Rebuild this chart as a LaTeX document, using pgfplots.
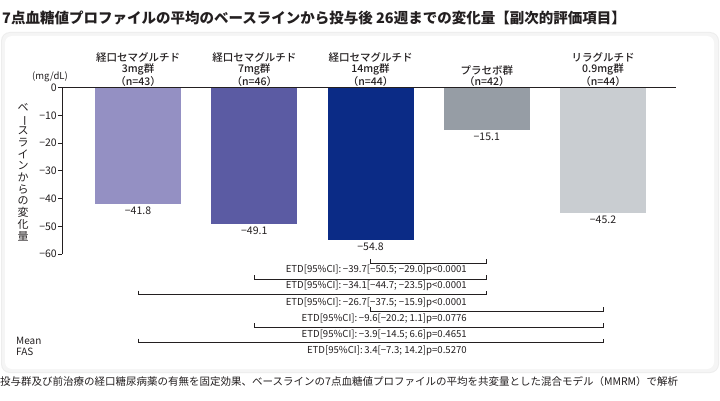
\documentclass[border=0pt]{standalone}
\usepackage{fontspec}
\setmainfont{Noto Sans CJK JP}
\newfontfamily\medfont{Noto Sans CJK JP Medium}
\usepackage{graphicx}
\usepackage{pgfplots}
\pgfplotsset{compat=1.18}
\definecolor{cA}{HTML}{9490C3}
\definecolor{cB}{HTML}{5B5BA3}
\definecolor{cC}{HTML}{0B2B86}
\definecolor{cD}{HTML}{969DA5}
\definecolor{cE}{HTML}{C9CDD1}
\definecolor{txt}{HTML}{231F20}
\begin{document}
\begin{tikzpicture}
\useasboundingbox (0pt,0pt) rectangle (720pt,400pt);
\fill[white] (0pt,0pt) rectangle (720pt,400pt);
% panel
\fill[black!7, rounded corners=9pt] (1pt,27pt) rectangle (719pt,368pt);
\fill[black!4, rounded corners=8pt] (2pt,28pt) rectangle (718pt,367pt);
\fill[white, rounded corners=7pt] (5pt,31pt) rectangle (714pt,364pt);
% title
\node[anchor=west, inner sep=0pt, font=\fontsize{14.5}{16}\selectfont\bfseries, text=txt] at (2pt,382pt)
 {7点血糖値プロファイルの平均のベースラインから投与後 26週までの変化量【副次的評価項目】};
% footnote
\node[anchor=west, inner sep=0pt, font=\fontsize{10.5}{12}\selectfont, text=txt] at (0pt,18pt)
 {投与群及び前治療の経口糖尿病薬の有無を固定効果、ベースラインの7点血糖値プロファイルの平均を共変量とした混合モデル（MMRM）で解析};
\begin{axis}[
  at={(62pt,146pt)}, anchor=south west,
  scale only axis, width=614pt, height=166.3pt,
  xmin=-0.654, xmax=4.628, ymin=-60, ymax=0,
  axis x line=top, axis y line=left,
  axis line style={-, line width=0.9pt, txt},
  ytick={-60,-50,-40,-30,-20,-10,0},
  yticklabels={−60,−50,−40,−30,−20,−10,0},
  y tick style={line width=0.9pt, txt},
  tick align=outside, major tick length=4pt,
  yticklabel style={font=\fontsize{10.5}{12}\selectfont, text=txt, inner sep=1pt},
  xtick={0,1,2,3,4},
  xticklabels={経口セマグルチド\\3mg群\\（n=43）,経口セマグルチド\\7mg群\\（n=46）,経口セマグルチド\\14mg群\\（n=44）,プラセボ群\\（n=42）,リラグルチド\\0.9mg群\\（n=44）},
  x tick style={draw=none},
  xticklabel style={align=center, font=\fontsize{10.5}{11.2}\selectfont\medfont, text=txt, anchor=south, inner sep=1pt, yshift=-4pt},
  ybar, bar width=86pt,
  nodes near coords, point meta=explicit symbolic,
  nodes near coords style={font=\fontsize{10.5}{12}\selectfont, text=txt, anchor=north, inner sep=3pt},
  clip=false,
]
\addplot[fill=cA, draw=none, bar shift=0pt] coordinates {(0,-41.8) [−41.8]};
\addplot[fill=cB, draw=none, bar shift=0pt] coordinates {(1,-49.1) [−49.1]};
\addplot[fill=cC, draw=none, bar shift=0pt] coordinates {(2,-54.8) [−54.8]};
\addplot[fill=cD, draw=none, bar shift=0pt] coordinates {(3,-15.1) [−15.1]};
\addplot[fill=cE, draw=none, bar shift=0pt] coordinates {(4,-45.2) [−45.2]};
\end{axis}
\begin{scope}[x=1pt, y=1pt]
\node[font=\fontsize{9.5}{11}\selectfont, text=txt, inner sep=0pt] at (50,323) {(mg/dL)};
\node[align=center, font=\fontsize{11}{11.7}\selectfont, text=txt, inner sep=0pt] at (23,228)
 {ベ\\\rotatebox[origin=c]{-90}{ー}\\ス\\ラ\\イ\\ン\\か\\ら\\の\\変\\化\\量};
\node[anchor=west, font=\fontsize{10}{11}\selectfont, text=txt, inner sep=0pt] at (16,59) {Mean};
\node[anchor=west, font=\fontsize{10}{11}\selectfont, text=txt, inner sep=0pt] at (16,48) {FAS};
\begin{scope}[line width=0.9pt, txt]
\draw (370.5,140.7) -- (370.5,136.7) -- (486.5,136.7) -- (486.5,140.7);
\draw (254,125) -- (254,121) -- (486.5,121) -- (486.5,125);
\draw (138,109.3) -- (138,105.3) -- (486.5,105.3) -- (486.5,109.3);
\draw (370.5,93) -- (370.5,89) -- (603,89) -- (603,93);
\draw (254,76.7) -- (254,72.7) -- (603,72.7) -- (603,76.7);
\draw (138,61.3) -- (138,57.3) -- (603,57.3) -- (603,61.3);
\end{scope}
\begin{scope}[every node/.style={anchor=east, inner sep=0pt, font=\fontsize{9.6}{10}\selectfont, text=txt}]
\node at (467,130) {ETD[95\%CI]:\,−39.7[−50.5; −29.0]p<0.0001};
\node at (467,114.3) {ETD[95\%CI]:\,−34.1[−44.7; −23.5]p<0.0001};
\node at (467,97.7) {ETD[95\%CI]:\,−26.7[−37.5; −15.9]p<0.0001};
\node at (467,81) {ETD[95\%CI]:\,−9.6[−20.2; 1.1]p=0.0776};
\node at (467,65.7) {ETD[95\%CI]:\,−3.9[−14.5; 6.6]p=0.4651};
\node at (467,49.7) {ETD[95\%CI]:\,3.4[−7.3; 14.2]p=0.5270};
\end{scope}
\end{scope}
\end{tikzpicture}
\end{document}
